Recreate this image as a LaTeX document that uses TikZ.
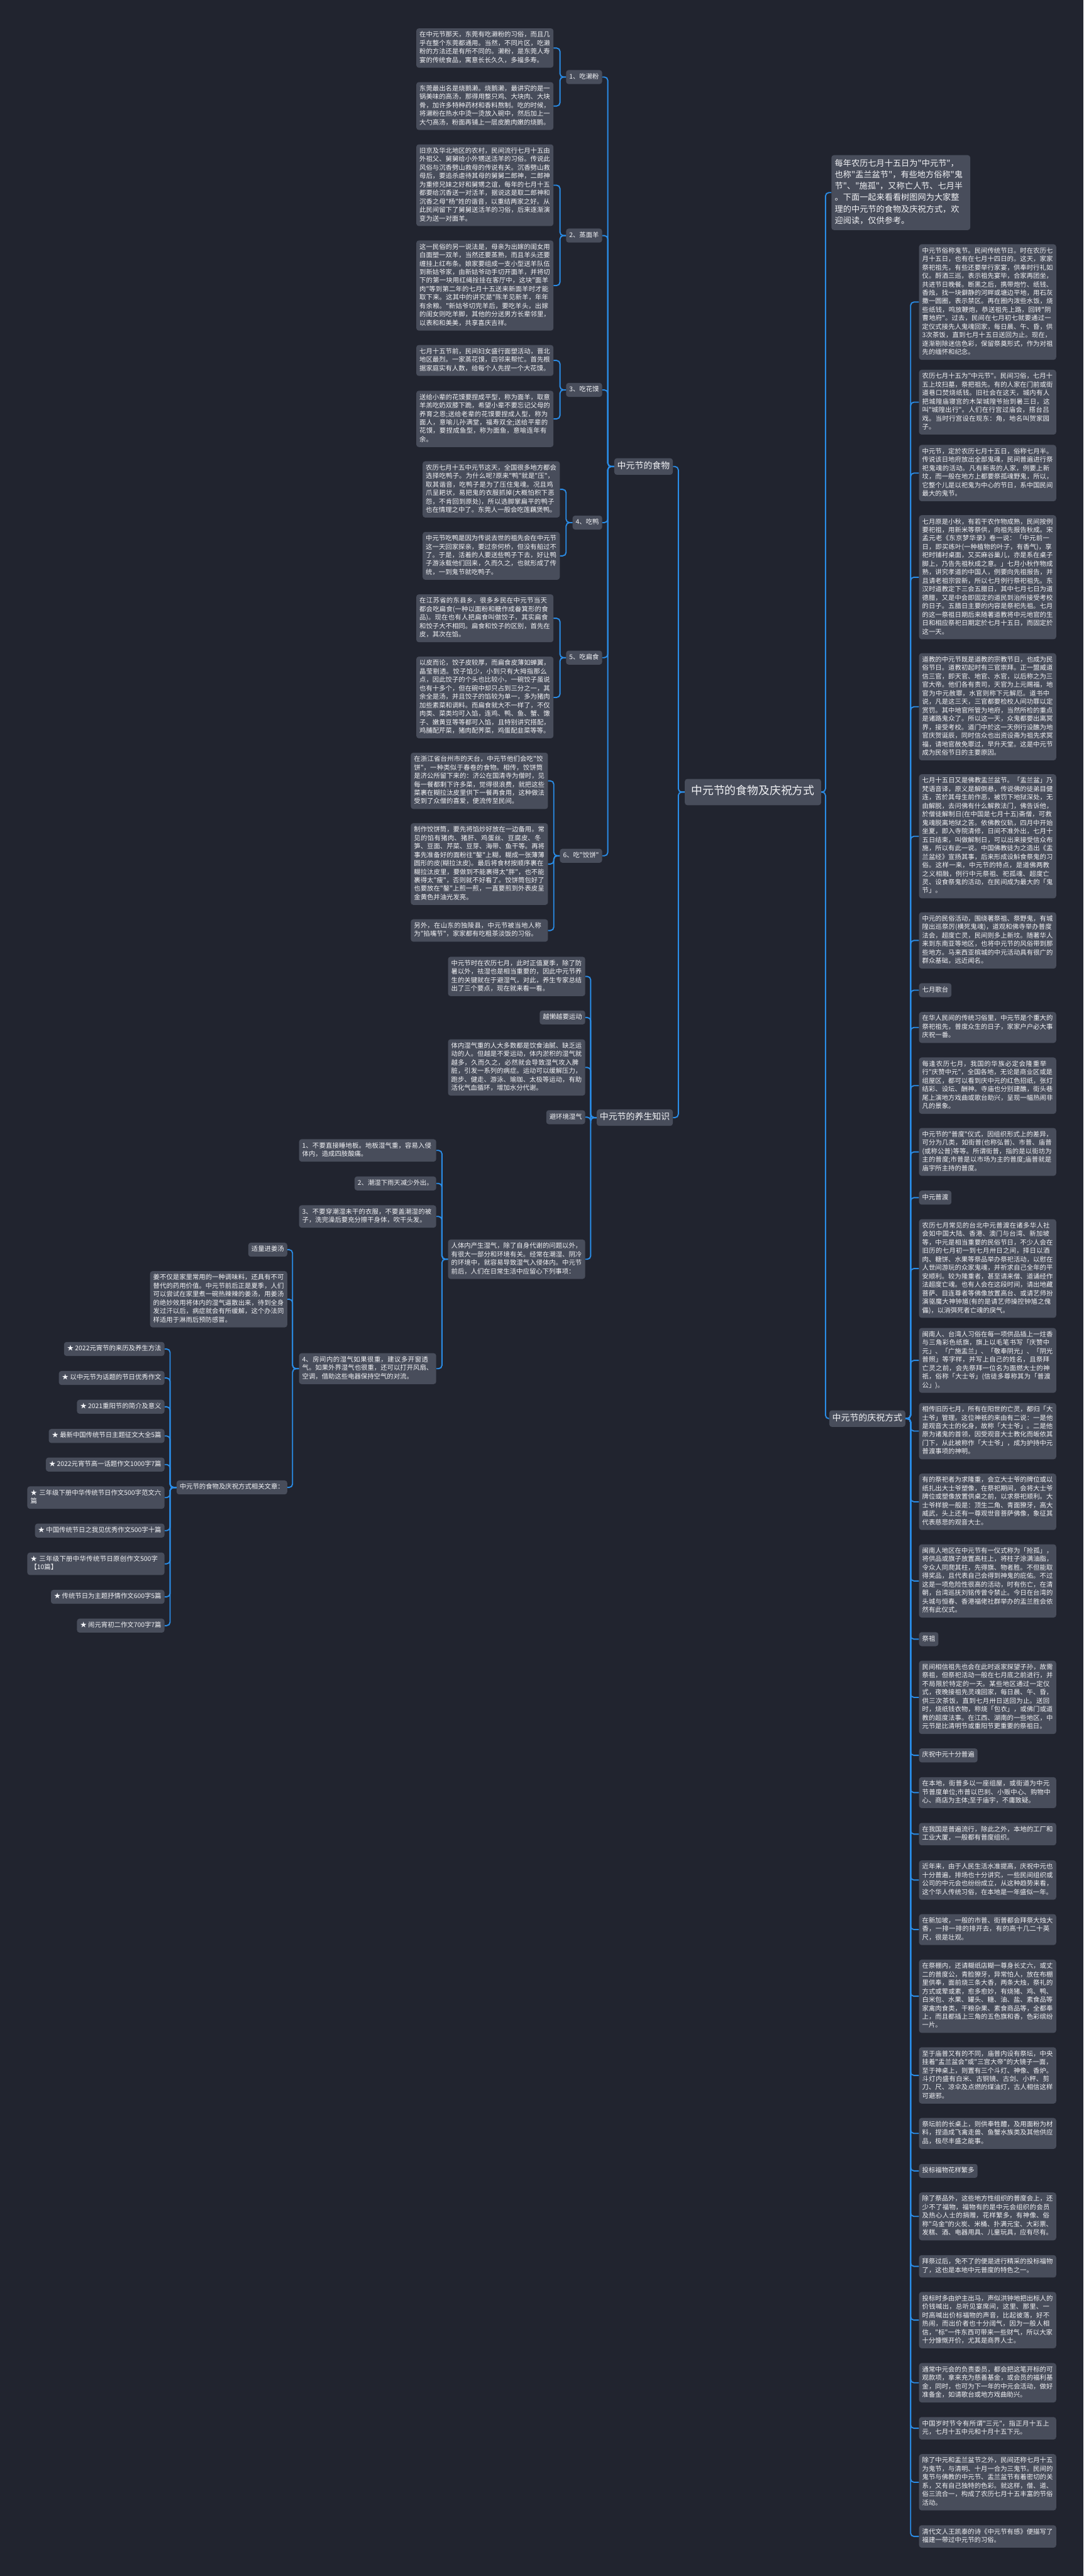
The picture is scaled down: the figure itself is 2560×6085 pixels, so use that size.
\documentclass[tikz,border=0pt]{standalone}
\usepackage{fontspec}
\setmainfont{Noto Sans CJK SC}[Ligatures=TeXOff]
\XeTeXlinebreaklocale "zh"
\XeTeXlinebreakskip=0pt plus 1pt
\usepackage{tikz}
\usetikzlibrary{positioning}
\definecolor{bgdark}{RGB}{33,36,47}
\definecolor{boxgrey}{RGB}{72,77,91}
\definecolor{linkblue}{RGB}{42,140,230}
\definecolor{inktext}{RGB}{242,243,246}

\begin{document}
\begin{tikzpicture}[x=0.5pt, y=-0.5pt,
    txt/.style={fill=boxgrey, text=inktext, rounded corners=3pt,
      inner xsep=3.75pt, inner ysep=3.25pt,
      font=\fontsize{7.7pt}{10pt}\selectfont,
      execute at begin node={\noindent\strut}, execute at end node=\strut},
    para/.style={txt, text width=154.5pt, align=left},
    topic/.style={txt, inner xsep=3.5pt, inner ysep=3.5pt,
      font=\fontsize{10.35pt}{12.5pt}\selectfont},
    rootbox/.style={txt, inner xsep=7.6pt, inner ysep=7.5pt,
      font=\fontsize{13.25pt}{16pt}\selectfont},
    intro/.style={txt, text width=156pt, align=left, inner xsep=4pt, inner ysep=3.75pt,
      font=\fontsize{9.8pt}{13.5pt}\selectfont},
    link/.style={draw=linkblue, line width=1.4pt, rounded corners=4pt}]
    \fill[bgdark] (0,0) rectangle (2560,6085);
    \useasboundingbox (0,0) rectangle (2560,6085);

    % centre and main branches
    \node[rootbox] (root) at (1779,1871) {中元节的食物及庆祝方式};
    \node[topic, anchor=east] (food) at (1590,1102) {中元节的食物};
    \node[topic, anchor=east] (health) at (1590,2640) {中元节的养生知识};
    \node[topic, anchor=west] (celebr) at (1959,3351) {中元节的庆祝方式};
    \node[intro, anchor=west] (intro) at (1964,455) {每年农历七月十五日为"中元节"，\\也称"盂兰盆节"，有些地方俗称"鬼\\节"、"施孤"，又称亡人节、七月半\\。下面一起来看看树图网为大家整\\理的中元节的食物及庆祝方式，欢\\迎阅读，仅供参考。};
    \foreach \n in {food,health}
      \draw[link] (root.west) -- ++(-15,0) |- (\n.east);
    \foreach \n in {intro,celebr}
      \draw[link] (root.east) -- ++(10,0) |- (\n.west);

    % foods
    \node[txt, anchor=east] (f1) at (1423,182) {1、吃濑粉};
    \node[txt, anchor=east] (f2) at (1423,556.5) {2、蒸面羊};
    \node[txt, anchor=east] (f3) at (1423,921) {3、吃花馍};
    \node[txt, anchor=east] (f4) at (1423,1234.5) {4、吃鸭};
    \node[txt, anchor=east] (f5) at (1423,1553.5) {5、吃扁食};
    \node[txt, anchor=east] (f6) at (1423,2021.5) {6、吃"饺饼"};
    \foreach \i in {1,...,6}
      \draw[link] (food.west) -- ++(-15,0) |- (f\i.east);

    \node[para, anchor=east] (a1) at (1308,113.5) {在中元节那天，东莞有吃濑粉的习俗，而且几乎在整个东莞都通用。当然，不同片区，吃濑粉的方法还是有所不同的。濑粉，是东莞人寿宴的传统食品，寓意长长久久，多福多寿。};
    \node[para, anchor=east] (a2) at (1308,250.5) {东莞最出名是烧鹅濑。烧鹅濑，最讲究的是一锅美味的高汤，那得用整只鸡、大块肉、大块骨，加许多特种药材和香料熬制。吃的时候，将濑粉在热水中烫一烫放入碗中，然后加上一大勺高汤，粉面再铺上一层皮脆肉嫩的烧鹅。};
    \node[para, anchor=east] (b1) at (1308,437.5) {旧京及华北地区的农村，民间流行七月十五由外祖父、舅舅给小外甥送活羊的习俗。传说此风俗与沉香劈山救母的传说有关。沉香劈山救母后，要追杀虐待其母的舅舅二郎神，二郎神为重修兄妹之好和舅甥之谊，每年的七月十五都要给沉香送一对活羊，据说这是取二郎神和沉香之母"杨"姓的谐音，以重结两家之好。从此民间留下了舅舅送活羊的习俗，后来逐渐演变为送一对面羊。};
    \node[para, anchor=east] (b2) at (1308,674.5) {这一民俗的另一说法是，母亲为出嫁的闺女用白面塑一双羊，当然还要蒸熟，而且羊头还要缠挂上红布条。娘家要组成一支小型送羊队伍到新姑爷家，由新姑爷动手切开面羊，并将切下的第一块用红绳拴挂在客厅中，这块"面羊肉"等到第二年的七月十五送来新面羊时才能取下来。这其中的讲究是"陈羊见新羊，年年有余粮。"新姑爷切完羊后，要吃羊头，出嫁的闺女则吃羊脚，其他的分送男方长辈邻里，以表和和美美，共享喜庆吉祥。};
    \node[para, anchor=east] (m1) at (1308,851.5) {七月十五节前，民间妇女盛行面塑活动，晋北地区最烈。一家蒸花馍，四邻来帮忙。首先根据家庭实有人数，给每个人先捏一个大花馍。};
    \node[para, anchor=east] (m2) at (1308,989.5) {送给小辈的花馍要捏成平型，称为面羊，取意羊羔吃奶双膝下跪，希望小辈不要忘记父母的养育之恩;送给老辈的花馍要捏成人型，称为面人，意喻儿孙满堂，福寿双全;送给平辈的花馍，要捏成鱼型，称为面鱼，意喻连年有余。};
    \node[para, anchor=east] (y1) at (1323,1156) {农历七月十五中元节这天，全国很多地方都会选择吃鸭子。为什么呢?原来"鸭"就是"压"，取其谐音，吃鸭子是为了压住鬼魂。况且鸡爪呈耙状，易把鬼的衣服抓掉(大概怕积下恶怨，不肯回到原处)，所以选脚掌扁平的鸭子也在情理之中了。东莞人一般会吃莲藕煲鸭。};
    \node[para, anchor=east] (y2) at (1323,1313) {中元节吃鸭是因为传说去世的祖先会在中元节这一天回家探亲，要过奈何桥，但没有船过不了。于是，活着的人要送些鸭子下去，好让鸭子游泳载他们回来，久而久之，也就形成了传统，一到鬼节就吃鸭子。};
    \node[para, anchor=east] (s1) at (1308,1460.5) {在江苏省的东县乡，很多乡民在中元节当天都会吃扁食(一种以面粉和糖作成畚箕形的食品)。现在也有人把扁食叫做饺子，其实扁食和饺子大不相同。扁食和饺子的区别，首先在皮，其次在馅。};
    \node[para, anchor=east] (s2) at (1308,1647.5) {以皮而论，饺子皮较厚，而扁食皮薄如蝉翼，晶莹剔透。饺子馅少，小到只有大拇指那么点，因此饺子的个头也比较小，一碗饺子虽说也有十多个，但在碗中却只占到三分之一，其余全是汤，并且饺子的馅较为单一，多为猪肉加些素菜和调料。而扁食就大不一样了，不仅肉类、菜类均可入馅，连鸡、鸭、鱼、蟹、馓子、嫩黄豆等等都可入馅，且特别讲究搭配，鸡脯配芹菜，猪肉配荠菜，鸡蛋配韭菜等等。};
    \node[para, anchor=east] (j1) at (1295,1844.5) {在浙江省台州市的天台，中元节他们会吃"饺饼"，一种类似于春卷的食物。相传，饺饼筒是济公所留下来的：济公在国清寺为僧时，见每一餐都剩下许多菜，觉得很浪费，就把这些菜裹在糊拉汰皮里供下一餐再食用，这种做法受到了众僧的喜爱，便流传至民间。};
    \node[para, anchor=east] (j2) at (1295,2041) {制作饺饼筒，要先将馅炒好放在一边备用。常见的馅有猪肉、猪肝、鸡蛋丝、豆腐皮、冬笋、豆面、芹菜、豆芽、海带、鱼干等。再将事先准备好的面粉往"鏊"上糊，糊成一张薄薄圆形的皮(糊拉汰皮)。最后将食材按顺序裹在糊拉汰皮里，要做到不能裹得太"胖"，也不能裹得太"瘦"，否则就不好看了。饺饼筒包好了也要放在"鏊"上煎一煎，一直要煎到外表皮呈金黄色并油光发亮。};
    \node[para, anchor=east] (j3) at (1295,2198) {另外，在山东的独陵县，中元节被当地人称为"掐嘴节"，家家都有吃粗茶淡饭的习俗。};
    \foreach \c in {a1,a2} \draw[link] (f1.west) -- ++(-14,0) |- (\c.east);
    \foreach \c in {b1,b2} \draw[link] (f2.west) -- ++(-14,0) |- (\c.east);
    \foreach \c in {m1,m2} \draw[link] (f3.west) -- ++(-14,0) |- (\c.east);
    \foreach \c in {y1,y2} \draw[link] (f4.west) -- ++(-15,0) |- (\c.east);
    \foreach \c in {s1,s2} \draw[link] (f5.west) -- ++(-14,0) |- (\c.east);
    \foreach \c in {j1,j2,j3} \draw[link] (f6.west) -- ++(-14,0) |- (\c.east);

    % health
    \node[para, anchor=east] (h1) at (1383,2306.5) {中元节时在农历七月，此时正值夏季，除了防暑以外，祛湿也是相当重要的，因此中元节养生的关键就在于避湿气，对此，养生专家总结出了三个要点，现在就来看一看。};
    \node[txt, anchor=east] (h2) at (1383,2403.5) {越懒越要运动};
    \node[para, anchor=east] (h3) at (1383,2521.5) {体内湿气重的人大多数都是饮食油腻、缺乏运动的人。但越是不爱运动，体内淤积的湿气就越多，久而久之，必然就会导致湿气攻入脾脏，引发一系列的病症。运动可以缓解压力，跑步、健走、游泳、瑜珈、太极等运动，有助活化气血循环，增加水分代谢。};
    \node[txt, anchor=east] (h4) at (1383,2639) {避环境湿气};
    \node[para, anchor=east] (h5) at (1383,2974.5) {人体内产生湿气，除了自身代谢的问题以外，有很大一部分和环境有关。经常在潮湿、阴冷的环境中，就容易导致湿气入侵体内。中元节前后，人们在日常生活中应留心下列事项：};
    \foreach \i in {1,...,5}
      \draw[link] (health.west) -- ++(-14,0) |- (h\i.east);

    \node[para, anchor=east] (d1) at (1031,2717.5) {1、不要直接睡地板。地板湿气重，容易入侵体内，造成四肢酸痛。};
    \node[txt, anchor=east] (d2) at (1031,2795.5) {2、潮湿下雨天减少外出。};
    \node[para, anchor=east] (d3) at (1031,2873.5) {3、不要穿潮湿未干的衣服，不要盖潮湿的被子，洗完澡后要充分擦干身体，吹干头发。};
    \node[para, anchor=east] (d4) at (1031,3233) {4、房间内的湿气如果很重，建议多开窗透气。如果外界湿气也很重，还可以打开风扇、空调，借助这些电器保持空气的对流。};
    \foreach \i in {1,...,4}
      \draw[link] (h5.west) -- ++(-14,0) |- (d\i.east);

    \node[txt, anchor=east] (k1) at (679,2952) {适量进姜汤};
    \node[para, anchor=east] (k2) at (679,3069) {姜不仅是家里常用的一种调味料，还具有不可替代的药用价值。中元节前后正是夏季，人们可以尝试在家里煮一碗热辣辣的姜汤，用姜汤的绝妙效用将体内的湿气逼散出来，待到全身发过汗以后，病症就会有所缓解，这个办法同样适用于淋雨后预防感冒。};
    \node[txt, anchor=east] (k3) at (679,3513.5) {中元节的食物及庆祝方式相关文章：};
    \foreach \i in {1,...,3}
      \draw[link] (d4.west) -- ++(-15,0) |- (k\i.east);

    \node[txt, anchor=east] (w1) at (389,3186.5) {★ 2022元宵节的来历及养生方法};
    \node[txt, anchor=east] (w2) at (389,3255) {★ 以中元节为话题的节日优秀作文};
    \node[txt, anchor=east] (w3) at (389,3323) {★ 2021重阳节的简介及意义};
    \node[txt, anchor=east] (w4) at (389,3392) {★ 最新中国传统节日主题征文大全5篇};
    \node[txt, anchor=east] (w5) at (389,3459.5) {★ 2022元宵节高一话题作文1000字7篇};
    \node[para, anchor=east] (w6) at (389,3537.5) {★ 三年级下册中华传统节日作文500字范文六篇};
    \node[txt, anchor=east] (w7) at (389,3615.5) {★ 中国传统节日之我见优秀作文500字十篇};
    \node[para, anchor=east] (w8) at (389,3694) {★ 三年级下册中华传统节日原创作文500字【10篇】};
    \node[txt, anchor=east] (w9) at (389,3772) {★ 传统节日为主题抒情作文600字5篇};
    \node[txt, anchor=east] (w10) at (389,3840) {★ 闹元宵初二作文700字7篇};
    \foreach \i in {1,...,10}
      \draw[link] (k3.west) -- ++(-15,0) |- (w\i.east);

    % celebrations
    \node[para, anchor=west] (r1) at (2171,713.5) {中元节俗称鬼节。民间传统节日。时在农历七月十五日，也有在七月十四日的。这天，家家祭祀祖先，有些还要举行家宴，供奉时行礼如仪。酹酒三巡，表示祖先宴毕，合家再团坐，共进节日晚餐。断黑之后，携带炮竹、纸钱、香烛，找一块僻静的河畔或塘边平地，用石灰撒一圆圈，表示禁区。再在圈内泼些水饭，烧些纸钱，鸣放鞭炮，恭送祖先上路，回转"阴曹地府"。过去，民间在七月初七就要通过一定仪式接先人鬼魂回家，每日晨、午、昏，供3次茶饭，直到七月十五日送回为止。现在，逐渐剔除迷信色彩，保留祭奠形式，作为对祖先的缅怀和纪念。};
    \node[para, anchor=west] (r2) at (2171,950) {农历七月十五为"中元节"。民间习俗，七月十五上坟扫墓，祭把祖先。有的人家在门前或街道巷口焚烧纸钱。旧社会在这天，城内有人把城隍庙寝宫的木架城隍爷抬到暑三日，这叫"城隍出行"。人们在行宫过庙会，搭台吕戏。当时行宫设在现东：角，地名叫贺家园子。};
    \node[para, anchor=west] (r3) at (2171,1117.5) {中元节，定於农历七月十五日，俗称七月半。传说该日地府放出全部鬼魂，民间普遍进行祭祀鬼魂的活动。凡有新丧的人家，例要上新坟，而一般在地方上都要祭孤魂野鬼，所以，它整个儿是以祀鬼为中心的节日，系中国民间最大的鬼节。};
    \node[para, anchor=west] (r4) at (2171,1363.5) {七月原是小秋，有若干农作物成熟，民间按例要祀祖，用新米等祭供，向祖先报告秋成。宋 孟元老《东京梦华录》卷一说：「中元前一日，即买练叶(一种植物的叶子，有香气)，享祀时铺衬桌面，又买麻谷巢儿，亦是系在桌子脚上，乃告先祖秋成之意。」七月小秋作物成熟，讲究孝道的中国人，例要向先祖报告，并且请老祖宗尝新，所以七月例行祭祀祖先。东汉时道教定下三会五腊日，其中七月七日为道德腊，又是中会即固定的道民到治所接受考校的日子。五腊日主要的内容是祭祀先祖。七月的这一祭祖日期后来随著道教将中元地官的生日和相应祭祀日期定於七月十五日，而固定於这一天。};
    \node[para, anchor=west] (r5) at (2171,1669.5) {道教的中元节既是道教的宗教节日，也成为民俗节日。道教初起时有三官崇拜。正一盟威道信三官，即天官、地官、水官，以后称之为三官大帝。他们各有责司，天官为上元赐福，地官为中元赦罪，水官则称下元解厄。道书中说，凡是这三天，三官都要检校人间功罪以定赏罚。其中地官所管为地府，当然所检的重点是诸路鬼众了。所以这一天，众鬼都要出离冥界，接受考校。道门中於这一天例行设醮为地官庆贺诞辰，同时信众也出资设斋为祖先求冥福，请地官赦免罪过，早升天堂。这是中元节成为民俗节日的主要原因。};
    \node[para, anchor=west] (r6) at (2171,1975.5) {七月十五日又是佛教盂兰盆节。「盂兰盆」乃梵语音译，原义是解倒悬，传说佛的徒弟目健连，苦於其母生前作恶，被罚下地狱深处，无由解脱，去问佛有什么解救法门，佛告诉他，於僧徒解制日(在中国是七月十五)斋僧，可救鬼魂脱离地狱之苦。依佛教仪轨，四月中开始坐夏，即入寺院清修，日间不准外出，七月十五日结束，叫做解制日，可以出来接受信众布施，所以有此一说。中国佛教徒为之造出《盂兰盆经》宣扬其事，后来形成设斛食祭鬼的习俗。这样一来，中元节的特点，是道佛两教之义相融，例行中元祭祖、祀孤魂、超度亡灵、设食祭鬼的活动，在民间成为最大的「鬼节」。};
    \node[para, anchor=west] (r7) at (2171,2221.5) {中元的民俗活动，围绕著祭祖、祭野鬼，有城隍出巡祭厉(横死鬼魂)，道观和佛寺举办普度法会，超度亡灵，民间则多上新坟。随著华人来到东南亚等地区，也将中元节的风俗带到那些地方。马来西亚槟城的中元活动具有很广的群众基础，远近闻名。};
    \node[txt, anchor=west] (r8) at (2171,2339) {七月歌台};
    \node[para, anchor=west] (r9) at (2171,2427) {在华人民间的传统习俗里，中元节是个重大的祭祀祖先，普度众生的日子，家家户户必大事庆祝一番。};
    \node[para, anchor=west] (r10) at (2171,2564.5) {每逢农历七月，我国的华族必定会隆重举行"庆赞中元"，全国各地，无论是商业区或是组屋区，都可以看到庆中元的红色招纸，张灯结彩、设坛、酬神。寺庙也分别建醮，街头巷尾上演地方戏曲或歌台助兴，呈现一幅热闹非凡的景象。};
    \node[para, anchor=west] (r11) at (2171,2721) {中元节的"普度"仪式，因组织形式上的差异，可分为几类，如街普(也称弘普)、市普、庙普(或称公普)等等。所谓街普，指的是以街坊为主的普度;市普是以市场为主的普度;庙普就是庙宇所主持的普度。};
    \node[txt, anchor=west] (r12) at (2171,2829) {中元普渡};
    \node[para, anchor=west] (r13) at (2171,2996.5) {农历七月常见的台北中元普渡在诸多华人社会如中国大陆、香港、澳门与台湾、新加坡等，中元是相当重要的民俗节日，不少人会在旧历的七月初一到七月卅日之间，择日以酒肉、糖饼、水果等祭品举办祭祀活动，以慰在人世间游玩的众家鬼魂，并祈求自己全年的平安顺利。较为隆重者，甚至请来僧、道诵经作法超度亡魂。也有人会在这段时间，请出地藏菩萨、目连尊者等佛像放置高台、或请艺师扮演驱魔大神钟馗(有的是请艺师操控钟馗之傀儡)，以消弭死者亡魂的戾气。};
    \node[para, anchor=west] (r14) at (2171,3213.5) {闽南人、台湾人习俗在每一项供品插上一炷香与三角彩色纸旗，旗上以毛笔书写「庆赞中元」、「广施盂兰」、「敬奉阴光」、「阴光普照」等字样，并写上自己的姓名，且祭拜亡灵之前，会先祭拜一位名为面燃大士的神祇，俗称「大士爷」(信徒多尊称其为「普渡公」)。};
    \node[para, anchor=west] (r15) at (2171,3380.5) {相传旧历七月，所有在阳世的亡灵，都归「大士爷」管理。这位神祇的来由有二说：一是他是观音大士的化身，故称「大士爷」。二是他原为诸鬼的首领，因受观音大士教化而皈依其门下，从此被称作「大士爷」，成为护持中元普渡事项的神明。};
    \node[para, anchor=west] (r16) at (2171,3547.5) {有的祭祀者为求隆重，会立大士爷的牌位或以纸扎出大士爷塑像，在祭祀期间，会将大士爷牌位或塑像放置供桌之前，以求祭祀顺利。大士爷样貌一般是：顶生二角、青面獠牙，高大威武，头上还有一尊观世音菩萨佛像，象征其代表慈悲的观音大士。};
    \node[para, anchor=west] (r17) at (2171,3734.5) {闽南人地区在中元节有一仪式称为「抢孤」，将供品或旗子放置高柱上，将柱子涂满油脂，令众人同爬其柱，先得旗、物者胜。不但能取得奖品，且代表自己会得到神鬼的庇佑。不过这是一项危险性很高的活动，时有伤亡，在清朝，台湾巡抚刘铭传曾令禁止。今日在台湾的头城与恒春、香港福佬社群举办的盂兰胜会依然有此仪式。};
    \node[txt, anchor=west] (r18) at (2171,3872) {祭祖};
    \node[para, anchor=west] (r19) at (2171,4009.5) {民间相信祖先也会在此时返家探望子孙，故需祭祖，但祭祀活动一般在七月底之前进行，并不局限於特定的一天。某些地区通过一定仪式，夜晚接祖先灵魂回家，每日晨、午、昏，供三次茶饭，直到七月卅日送回为止。送回时，烧纸钱衣物，称烧「包衣」，或佛门或道教的超度法事。在江西、湖南的一些地区，中元节是比清明节或重阳节更重要的祭祖日。};
    \node[txt, anchor=west] (r20) at (2171,4146.5) {庆祝中元十分普遍};
    \node[para, anchor=west] (r21) at (2171,4234.5) {在本地，街普多以一座组屋，或街道为中元节普度单位;市普以巴刹、小贩中心、购物中心、商店为主体;至于庙宇，不庸致疑。};
    \node[para, anchor=west] (r22) at (2171,4332.5) {在我国是普遍流行，除此之外，本地的工厂和工业大厦，一般都有普度组织。};
    \node[para, anchor=west] (r23) at (2171,4441) {近年来，由于人民生活水准提高，庆祝中元也十分普遍，排场也十分讲究，一些民间组织或公司的中元会也纷纷成立，从这种趋势来看，这个华人传统习俗，在本地是一年盛似一年。};
    \node[para, anchor=west] (r24) at (2171,4558) {在新加坡，一般的市普、街普都会拜祭大烛大香，一排一排的排开去，有的高十几二十英尺，很是壮观。};
    \node[para, anchor=west] (r25) at (2171,4715.5) {在祭棚内，还请糊纸店糊一尊身长丈六，或丈二的普度公，青脸獠牙，异常怕人，放在布棚里供奉，面前烧三条大香，两条大烛，祭礼的方式或荤或素，愈多愈妙，有烧猪、鸡、鸭、白米包、水果、罐头、糖、油、盐、素食品等家禽肉食类，干粮杂果、素食商品等，全都奉上，而且都插上三角的五色旗和香，色彩缤纷一片。};
    \node[para, anchor=west] (r26) at (2171,4902.5) {至于庙普又有的不同，庙普内设有祭坛，中央挂着"盂兰盆会"或"三宫大帝"的大镜子一面，至于神桌上，则置有三个斗灯、神像、香炉。斗灯内盛有白米、古铜镜、古剑、小秤、剪刀、尺、凉伞及点燃的煤油灯，古人相信这样可避邪。};
    \node[para, anchor=west] (r27) at (2171,5039.5) {祭坛前的长桌上，则供奉牲醴，及用面粉为材料，捏造成飞禽走兽、鱼蟹水族类及其他供应品，极尽丰盛之能事。};
    \node[txt, anchor=west] (r28) at (2171,5128) {投标福物花样繁多};
    \node[para, anchor=west] (r29) at (2171,5235.5) {除了祭品外，这些地方性组织的普度会上，还少不了福物，福物有的是中元会组织的会员及热心人士的捐赠，花样繁多，有神像、俗称"乌金"的火炭、米桶、扑满元宝、大彩票、发糕、酒、电器用具、儿童玩具，应有尽有。};
    \node[para, anchor=west] (r30) at (2171,5353.5) {拜祭过后，免不了的便是进行精采的投标福物了，这也是本地中元普度的特色之一。};
    \node[para, anchor=west] (r31) at (2171,5480.5) {投标时多由炉主出马，声似洪钟地把出标人的价钱喊出，总听见宴席间，这里、那里、一时高喊出价标福物的声音，比起彼落，好不热闹，而出价者也十分阔气，因为一般人相信，"标"一件东西可带来一些财气，所以大家十分慷慨开价，尤其是商界人士。};
    \node[para, anchor=west] (r32) at (2171,5628.5) {通常中元会的负责委员，都会把这笔开标的可观款项，拿来充为慈善基金，或会员的福利基金，同时，也可为下一年的中元会活动，做好准备金，如请歌台或地方戏曲助兴。};
    \node[para, anchor=west] (r33) at (2171,5736) {中国岁时节令有所谓"三元"，指正月十五上元，七月十五中元和十月十五下元。};
    \node[para, anchor=west] (r34) at (2171,5863.5) {除了中元和盂兰盆节之外，民间还称七月十五为鬼节，与清明、十月一合为三鬼节。民间的鬼节与佛教的中元节、盂兰盆节有着密切的关系，又有自己独特的色彩。就这样，僧、道、俗三流合一，构成了农历七月十五丰富的节俗活动。};
    \node[para, anchor=west] (r35) at (2171,5991.5) {清代文人王凯泰的诗《中元节有感》便描写了福建一带过中元节的习俗。};
    \foreach \i in {1,...,35}
      \draw[link] (celebr.east) -- ++(12,0) |- (r\i.west);
  \end{tikzpicture}
\end{document}
